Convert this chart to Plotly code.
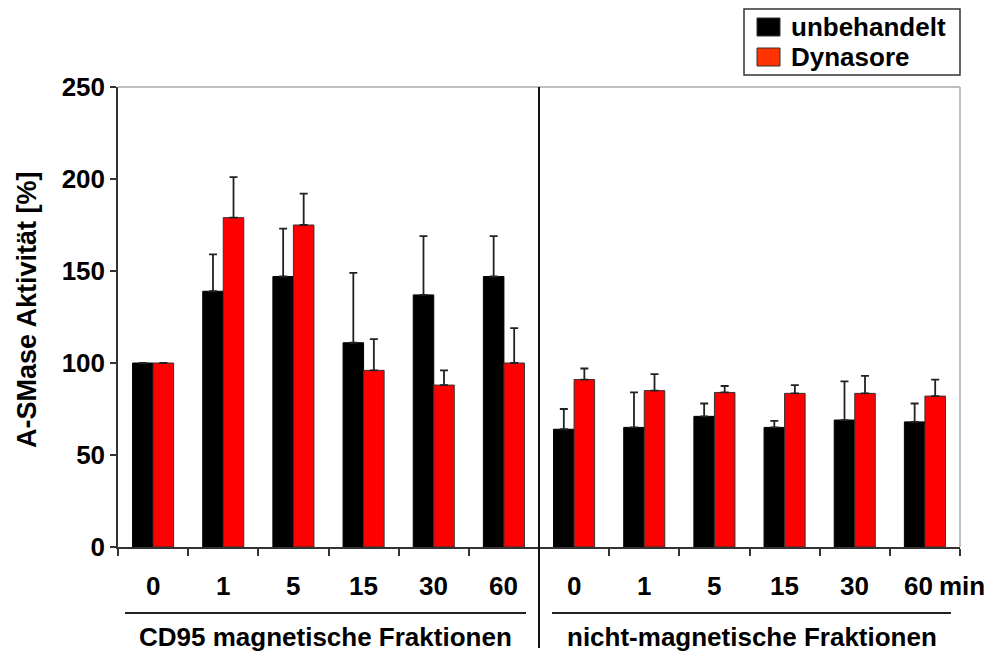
import plotly.graph_objects as go

# ---- data ----
time_labels = ["0", "1", "5", "15", "30", "60", "0", "1", "5", "15", "30", "60"]
group_labels = ["CD95 magnetische Fraktionen", "nicht-magnetische Fraktionen"]
series_names = ["unbehandelt", "Dynasore"]
unbehandelt = [100, 139, 147, 111, 137, 147, 64, 65, 71, 65, 69, 68]
unbehandelt_err = [None, 20, 26, 38, 32, 22, 11, 19, 7, 3.5, 21, 10]
dynasore = [100, 179, 175, 96, 88, 100, 91, 85, 84, 83.5, 83.5, 82]
dynasore_err = [None, 22, 17, 17, 8, 19, 6, 9, 3.5, 4.5, 9.5, 9]
unit_label = "min"
y_title = "A-SMase Aktivität [%]"

FONT = "Liberation Sans, Arial, sans-serif"
x_idx = list(range(len(time_labels)))
zeros = [0] * len(time_labels)

fig = go.Figure()
fig.add_trace(go.Bar(
    x=x_idx, y=unbehandelt, name=series_names[0],
    marker=dict(color="#000000", line=dict(color="#000000", width=1)),
    error_y=dict(type="data", array=unbehandelt_err, arrayminus=zeros, symmetric=False,
                 color="#222222", thickness=1.8, width=4),
    showlegend=False,
))
fig.add_trace(go.Bar(
    x=x_idx, y=dynasore, name=series_names[1],
    marker=dict(color="#FF0000", line=dict(color="#333333", width=1)),
    error_y=dict(type="data", array=dynasore_err, arrayminus=zeros, symmetric=False,
                 color="#222222", thickness=1.8, width=4),
    showlegend=False,
))

n = len(time_labels)
OFF = 8  # page body margin
W, H = 992 - OFF, 659 - 2 * OFF
# target plot area in window pixels: x 118..960, y 87..547
L = 118 - OFF
T = 87 - OFF
R = W + OFF - 960
B = H + OFF - 547
pw = W - L - R
ph = H - T - B

def px2paper_x(px):
    return (px - OFF - L) / pw

def px2paper_y(py):
    return (H - B - (py - OFF)) / ph

fig.update_layout(
    width=W, height=H,
    margin=dict(l=L, r=R, t=T, b=B),
    paper_bgcolor="white", plot_bgcolor="white",
    barmode="group", bargap=0.415, bargroupgap=0,
    font=dict(family=FONT, color="#000000"),
    xaxis=dict(
        range=[-0.5, n - 0.5],
        tickmode="array",
        tickvals=[i - 0.5 for i in range(n + 1)],
        showticklabels=False,
        ticks="outside", ticklen=7, tickwidth=1.5, tickcolor="#333333",
        showline=True, linecolor="#333333", linewidth=1.5,
        showgrid=False, zeroline=False,
    ),
    yaxis=dict(
        range=[0, 250], dtick=50,
        ticks="outside", ticklen=6, tickwidth=1.5, tickcolor="#333333",
        showline=True, linecolor="#333333", linewidth=1.5,
        showgrid=False, zeroline=False,
        tickfont=dict(family=FONT, size=26, weight="bold", color="#000000"),
    ),
)

shapes = []
# top and right plot border (gray)
shapes.append(dict(type="line", xref="paper", yref="paper", x0=0, x1=1, y0=1, y1=1,
                   line=dict(color="#aaaaaa", width=1.5)))
shapes.append(dict(type="line", xref="paper", yref="paper", x0=1, x1=1, y0=0, y1=1,
                   line=dict(color="#aaaaaa", width=1.5)))
# divider between groups
shapes.append(dict(type="line", xref="paper", yref="paper", x0=0.5, x1=0.5,
                   y0=px2paper_y(648), y1=1, line=dict(color="#111111", width=2)))
# group underlines
shapes.append(dict(type="line", xref="paper", yref="paper",
                   x0=px2paper_x(125), x1=px2paper_x(526),
                   y0=px2paper_y(613), y1=px2paper_y(613), line=dict(color="#222222", width=2)))
shapes.append(dict(type="line", xref="paper", yref="paper",
                   x0=px2paper_x(552), x1=px2paper_x(951),
                   y0=px2paper_y(613), y1=px2paper_y(613), line=dict(color="#222222", width=2)))

# manual legend
shapes.append(dict(type="rect", xref="paper", yref="paper",
                   x0=px2paper_x(744), x1=px2paper_x(960), y0=px2paper_y(75), y1=px2paper_y(9),
                   line=dict(color="#333333", width=1.5), fillcolor="white"))
legend_colors = ["#000000", "#FF3300"]
legend_rows = [27, 57]
for name, col, yc in zip(series_names, legend_colors, legend_rows):
    shapes.append(dict(type="rect", xref="paper", yref="paper",
                       x0=px2paper_x(757), x1=px2paper_x(780),
                       y0=px2paper_y(yc + 9), y1=px2paper_y(yc - 9),
                       line=dict(color="#333333", width=1), fillcolor=col))
fig.update_layout(shapes=shapes)

ann = []
for i, lab in enumerate(time_labels):
    ann.append(dict(x=i, y=px2paper_y(586), xref="x", yref="paper", text=lab,
                    showarrow=False, xanchor="center", yanchor="middle",
                    xshift=(-6 if i == n - 1 else 0),
                    font=dict(family=FONT, size=26, weight="bold", color="#000000")))
ann.append(dict(x=px2paper_x(937), y=px2paper_y(586), xref="paper", yref="paper",
                text=unit_label, showarrow=False, xanchor="left", yanchor="middle",
                font=dict(family=FONT, size=26, weight="bold", color="#000000")))
group_centers = [px2paper_x(325), px2paper_x(752)]
for g, xc in zip(group_labels, group_centers):
    ann.append(dict(x=xc, y=px2paper_y(637), xref="paper", yref="paper", text=g,
                    showarrow=False, xanchor="center", yanchor="middle",
                    font=dict(family=FONT, size=26, weight="bold", color="#000000")))
ann.append(dict(x=px2paper_x(27), y=px2paper_y(310), xref="paper", yref="paper",
                text=y_title, textangle=-90, showarrow=False,
                xanchor="center", yanchor="middle",
                font=dict(family=FONT, size=27, weight="bold", color="#000000")))
for name, yc in zip(series_names, legend_rows):
    ann.append(dict(x=px2paper_x(789), y=px2paper_y(yc), xref="paper", yref="paper",
                    text=name, showarrow=False, xanchor="left", yanchor="middle",
                    font=dict(family=FONT, size=26, weight="bold", color="#000000")))
fig.update_layout(annotations=ann)

fig.write_html("out.html")
